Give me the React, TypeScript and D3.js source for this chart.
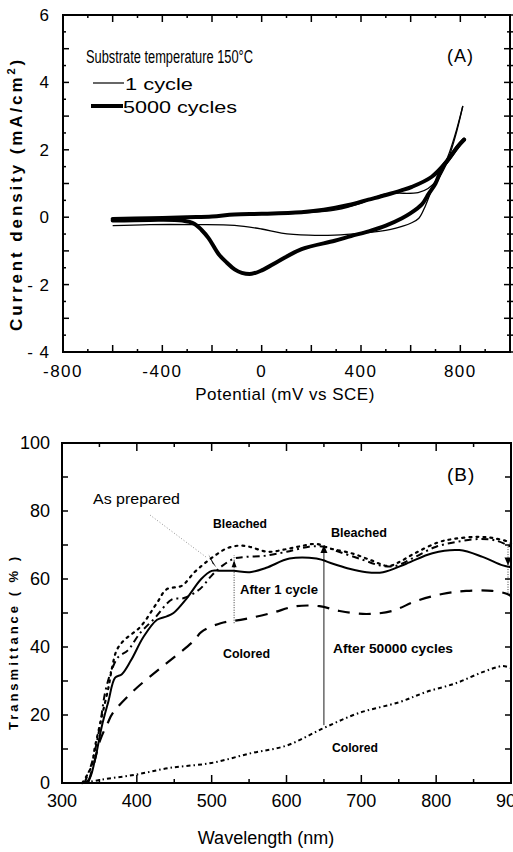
import React from "react";
import * as d3 from "d3";

// ---------- Panel A data: cyclic voltammograms [potential mV, current mA/cm2] ----------
const cycle1Anodic: [number, number][] = [
  [-600, -0.1], [-450, -0.05], [-300, -0.02], [-150, 0.05], [0, 0.1], [150, 0.12], [300, 0.22],
  [400, 0.42], [460, 0.6], [500, 0.69], [540, 0.71], [630, 0.73], [670, 0.85], [710, 1.15],
  [750, 1.8], [785, 2.6], [810, 3.3],
];
const cycle1Cathodic: [number, number][] = [
  [810, 3.3], [780, 2.4], [745, 1.6], [710, 1.1], [685, 0.8], [660, 0.35], [633, -0.03],
  [600, -0.18], [565, -0.27], [520, -0.36], [472, -0.42], [400, -0.48], [294, -0.53],
  [190, -0.53], [80, -0.47], [0, -0.35], [-109, -0.24], [-270, -0.22], [-450, -0.22], [-600, -0.25],
];
const cycle5000Anodic: [number, number][] = [
  [-600, -0.05], [-450, -0.03], [-300, 0], [-200, 0.02], [-110, 0.08], [0, 0.1], [160, 0.15],
  [250, 0.22], [350, 0.36], [430, 0.52], [500, 0.66], [560, 0.79], [605, 0.9], [685, 1.2],
  [745, 1.65], [790, 2.1], [815, 2.3],
];
const cycle5000Cathodic: [number, number][] = [
  [815, 2.3], [790, 2.1], [760, 1.8], [726, 1.45], [700, 1.0], [673, 0.7], [645, 0.38],
  [600, 0.12], [565, -0.03], [500, -0.25], [431, -0.42], [360, -0.56], [294, -0.7], [161, -0.95],
  [69, -1.3], [0, -1.58], [-40, -1.68], [-80, -1.65], [-109, -1.55], [-140, -1.35], [-173, -1.1],
  [-214, -0.62], [-242, -0.38], [-270, -0.2], [-320, -0.1], [-450, -0.08], [-600, -0.1],
];
const xTicksA = [-800, -400, 0, 400, 800];
const yTicksA = [-4, -2, 0, 2, 4, 6];

// ---------- Panel B data: transmittance spectra [wavelength nm, %] ----------
const asPrepared: [number, number][] = [
  [327, 0], [339, 4.7], [344, 10.6], [353, 19.4], [362, 28], [367, 34], [373, 39], [383, 42],
  [405, 46], [427, 53], [440, 57], [460, 58], [477, 62], [490, 64.5], [505, 67], [520, 69],
  [536, 69.8], [550, 69.5], [575, 68], [600, 68.8], [620, 69.7], [640, 70.3], [658, 69],
  [688, 67.5], [713, 65.5], [736, 63.8], [749, 64.8], [771, 67.5], [803, 70.8], [824, 71.8],
  [856, 72.4], [877, 72], [896, 71], [900, 70.5],
];
const bleached50000: [number, number][] = [
  [330, 0], [340, 6], [350, 16], [358, 27], [366, 33], [375, 37], [388, 39], [404, 44],
  [424, 48.5], [447, 54], [463, 54.4], [484, 57], [500, 61], [515, 64], [530, 66], [545, 66.5],
  [570, 66.8], [600, 68], [630, 69.5], [650, 69.5], [670, 68], [700, 65.8], [725, 64],
  [745, 63.8], [770, 66.3], [800, 69.5], [830, 71], [860, 71.8], [880, 71.3], [900, 69.5],
];
const bleached1: [number, number][] = [
  [328, 0], [336, 1], [344, 6.8], [353, 16.5], [362, 24], [371, 31], [380, 32], [392, 36],
  [409, 43], [427, 48], [440, 49], [449, 50], [467, 54.4], [486, 60], [500, 62.4], [511, 62.4],
  [529, 62.4], [551, 62], [573, 63.3], [604, 66], [640, 66], [662, 64.5], [684, 63], [707, 62],
  [729, 62], [760, 64.5], [795, 67.6], [831, 68.5], [862, 66.5], [889, 64], [900, 63.5],
];
const colored1: [number, number][] = [
  [335, 0], [343, 6], [351, 12.6], [361, 17.6], [368, 20.6], [395, 27], [427, 33], [450, 37],
  [477, 42], [486, 44.4], [512, 47], [544, 48.2], [580, 50], [613, 52], [644, 52], [671, 50.6],
  [707, 49.7], [741, 50.6], [773, 53.5], [808, 55.6], [840, 56.5], [875, 56.5], [895, 55.6], [900, 55],
];
const colored50000: [number, number][] = [
  [330, 0], [353, 1], [397, 2.4], [443, 4.4], [500, 5.9], [553, 8.8], [600, 11], [650, 16.2],
  [697, 20.6], [751, 23.8], [787, 26.8], [827, 29.4], [862, 32.6], [889, 34.4], [900, 33.8],
];
const xTicksB = [300, 400, 500, 600, 700, 800, 900];
const yTicksB = [0, 20, 40, 60, 80, 100];

const FONT = "'Liberation Sans', Arial, sans-serif";

export default function App() {
  const xA = d3.scaleLinear().domain([-800, 1000]).range([63, 510]);
  const yA = d3.scaleLinear().domain([-4, 6]).range([352, 15]);
  const xB = d3.scaleLinear().domain([300, 900]).range([62, 511]);
  const yB = d3.scaleLinear().domain([0, 100]).range([783, 443]);

  const lineA = d3.line<[number, number]>().x((d) => xA(d[0])).y((d) => yA(d[1])).curve(d3.curveCatmullRom);
  const lineB = d3.line<[number, number]>().x((d) => xB(d[0])).y((d) => yB(d[1])).curve(d3.curveCatmullRom);

  const [a0, a1] = xA.range();
  const [aBottom, aTop] = yA.range();
  const [b0, b1] = xB.range();
  const [bBottom, bTop] = yB.range();

  const minorXA = d3.range(-800, 1001, 100);
  const minorYA = d3.range(-4, 6.01, 0.5);
  const minorXB = d3.range(300, 901, 50);
  const minorYB = d3.range(0, 101, 10);

  const tickStroke = "#000";

  return (
    <svg width={513} height={852} style={{ position: "absolute", left: 0, top: 0, background: "#fff" }}>
      <rect x={0} y={0} width={513} height={852} fill="#fff" />
      {/* ================= PANEL A ================= */}
      <g>
        {minorXA.map((v) => {
          const major = v % 200 === 0;
          const L = major ? 7 : 3;
          return (
            <g key={"xa" + v} stroke={tickStroke} strokeWidth={1.5}>
              <line x1={xA(v)} x2={xA(v)} y1={aBottom} y2={aBottom - L} />
              <line x1={xA(v)} x2={xA(v)} y1={aTop} y2={aTop + L} />
            </g>
          );
        })}
        {minorYA.map((v) => {
          const major = Math.abs(v - Math.round(v)) < 1e-6;
          const L = major ? 6 : 3;
          return (
            <g key={"ya" + v} stroke={tickStroke} strokeWidth={1.5}>
              <line x1={a0} x2={a0 + L} y1={yA(v)} y2={yA(v)} />
              <line x1={a1 - L} x2={a1 + 3} y1={yA(v)} y2={yA(v)} />
            </g>
          );
        })}
        <rect x={a0} y={aTop} width={a1 - a0} height={aBottom - aTop} fill="none" stroke="#000" strokeWidth={2} />

        {xTicksA.map((v) => (
          <text key={"xl" + v} x={xA(v)} y={377} textAnchor="middle" fontFamily={FONT} fontSize={17} letterSpacing={1.5}>
            {v < 0 ? "-" + Math.abs(v) : v}
          </text>
        ))}
        {yTicksA.map((v) => (
          <text key={"yl" + v} x={50} y={yA(v) + 6} textAnchor="end" fontFamily={FONT} fontSize={17} letterSpacing={1}>
            {v < 0 ? "- " + Math.abs(v) : v}
          </text>
        ))}
        <text x={285} y={400} textAnchor="middle" fontFamily={FONT} fontSize={17} letterSpacing={0.5}>
          Potential (mV vs SCE)
        </text>
        <text transform="translate(22,194) rotate(-90)" textAnchor="middle" fontFamily={FONT} fontSize={17} fontWeight="bold" letterSpacing={2.9}>
          Current density (mA/cm<tspan dy={-7} fontSize={11}>2</tspan><tspan dy={7}>)</tspan>
        </text>

        <text x={86} y={63} fontFamily={FONT} fontSize={18} textLength={167} lengthAdjust="spacingAndGlyphs">
          Substrate temperature 150°C
        </text>
        <text x={447} y={62} fontFamily={FONT} fontSize={18} letterSpacing={1}>(A)</text>
        <line x1={93} x2={124} y1={83} y2={83} stroke="#000" strokeWidth={1.2} />
        <text x={125} y={90} fontFamily={FONT} fontSize={17} textLength={68} lengthAdjust="spacingAndGlyphs">1 cycle</text>
        <line x1={91} x2={123} y1={106} y2={106} stroke="#000" strokeWidth={4} />
        <text x={123} y={113} fontFamily={FONT} fontSize={17} textLength={114} lengthAdjust="spacingAndGlyphs">5000 cycles</text>

        <path d={lineA(cycle5000Anodic) ?? ""} fill="none" stroke="#000" strokeWidth={4} strokeLinejoin="round" strokeLinecap="round" />
        <path d={lineA(cycle5000Cathodic) ?? ""} fill="none" stroke="#000" strokeWidth={4} strokeLinejoin="round" strokeLinecap="round" />
        <path d={lineA(cycle1Anodic) ?? ""} fill="none" stroke="#000" strokeWidth={1.3} />
        <path d={lineA(cycle1Cathodic) ?? ""} fill="none" stroke="#000" strokeWidth={1.3} />
      </g>

      {/* ================= PANEL B ================= */}
      <g>
        {minorXB.map((v) => {
          const major = v % 100 === 0;
          const L = major ? 8 : 4;
          return (
            <g key={"xb" + v} stroke={tickStroke} strokeWidth={1.5}>
              <line x1={xB(v)} x2={xB(v)} y1={bBottom} y2={bBottom - L} />
              <line x1={xB(v)} x2={xB(v)} y1={bTop} y2={bTop + L} />
            </g>
          );
        })}
        {minorYB.map((v) => (
          <g key={"yb" + v} stroke={tickStroke} strokeWidth={1.5}>
            <line x1={b0} x2={b0 + 6} y1={yB(v)} y2={yB(v)} />
            <line x1={b1 - 6} x2={b1} y1={yB(v)} y2={yB(v)} />
          </g>
        ))}
        <rect x={b0} y={bTop} width={b1 - b0} height={bBottom - bTop} fill="none" stroke="#000" strokeWidth={2} />

        {xTicksB.map((v) => (
          <text key={"xbl" + v} x={xB(v)} y={807} textAnchor="middle" fontFamily={FONT} fontSize={18}>
            {v}
          </text>
        ))}
        {yTicksB.map((v) => (
          <text key={"ybl" + v} x={50} y={yB(v) + 6} textAnchor="end" fontFamily={FONT} fontSize={18}>
            {v}
          </text>
        ))}
        <text x={266} y={844} textAnchor="middle" fontFamily={FONT} fontSize={18}>
          Wavelength (nm)
        </text>
        <text transform="translate(18,642) rotate(-90)" textAnchor="middle" fontFamily={FONT} fontSize={13} fontWeight="bold" letterSpacing={3}>
          Transmittance ( % )
        </text>

        <text x={447} y={481} fontFamily={FONT} fontSize={19} letterSpacing={1}>(B)</text>
        <text x={93} y={504} fontFamily={FONT} fontSize={14} textLength={87} lengthAdjust="spacingAndGlyphs">As prepared</text>
        <text x={213} y={528} fontFamily={FONT} fontSize={12} fontWeight="bold" textLength={54} lengthAdjust="spacingAndGlyphs">Bleached</text>
        <text x={331} y={537} fontFamily={FONT} fontSize={12} fontWeight="bold" textLength={56} lengthAdjust="spacingAndGlyphs">Bleached</text>
        <text x={240} y={594} fontFamily={FONT} fontSize={12} fontWeight="bold" textLength={78} lengthAdjust="spacingAndGlyphs">After 1 cycle</text>
        <text x={223} y={658} fontFamily={FONT} fontSize={12} fontWeight="bold" textLength={47} lengthAdjust="spacingAndGlyphs">Colored</text>
        <text x={333} y={653} fontFamily={FONT} fontSize={12} fontWeight="bold" textLength={120} lengthAdjust="spacingAndGlyphs">After 50000 cycles</text>
        <text x={332} y={752} fontFamily={FONT} fontSize={12} fontWeight="bold" textLength={46} lengthAdjust="spacingAndGlyphs">Colored</text>

        <line x1={150} y1={515} x2={206} y2={557} stroke="#777" strokeWidth={0.8} strokeDasharray="1 2" />
        <path d={`M ${xB(505) - 7} ${yB(65.5) - 6} L ${xB(505) + 1} ${yB(64) + 2} L ${xB(505) - 3} ${yB(65.5) + 3} Z`} fill="#000" />

        <line x1={xB(530)} x2={xB(530)} y1={yB(47)} y2={yB(67)} stroke="#000" strokeWidth={0.8} strokeDasharray="1 1.5" />
        <path d={`M ${xB(530)} ${yB(65.5)} l -2.5 7 l 5 0 Z`} fill="#000" />
        <line x1={xB(650)} x2={xB(650)} y1={yB(17)} y2={yB(69)} stroke="#000" strokeWidth={0.9} />
        <path d={`M ${xB(650)} ${yB(70)} l -3.5 8 l 7 0 Z`} fill="#000" />
        <line x1={xB(896)} x2={xB(896)} y1={yB(56)} y2={yB(70)} stroke="#000" strokeWidth={0.8} strokeDasharray="1 1.5" />
        <path d={`M ${xB(896)} ${yB(64)} l -3.5 -8 l 7 0 Z`} fill="#000" />

        <path d={lineB(asPrepared) ?? ""} fill="none" stroke="#000" strokeWidth={2.2} strokeDasharray="2 5" strokeLinecap="round" />
        <path d={lineB(bleached50000) ?? ""} fill="none" stroke="#000" strokeWidth={2} strokeDasharray="7 4 2 4" />
        <path d={lineB(bleached1) ?? ""} fill="none" stroke="#000" strokeWidth={2} />
        <path d={lineB(colored1) ?? ""} fill="none" stroke="#000" strokeWidth={2.2} strokeDasharray="12 9" />
        <path d={lineB(colored50000) ?? ""} fill="none" stroke="#000" strokeWidth={2} strokeDasharray="4 3 1.5 3" />
      </g>
    </svg>
  );
}
